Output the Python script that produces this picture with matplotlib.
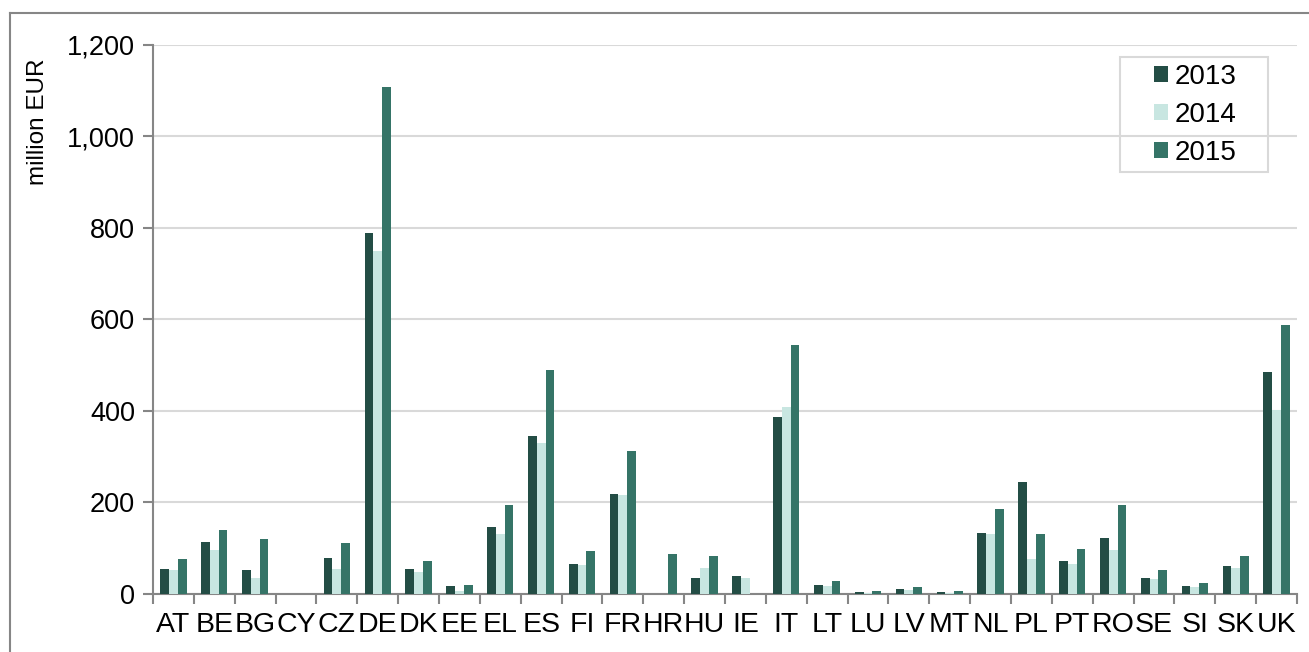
import matplotlib
matplotlib.use('Agg')
from matplotlib import pyplot as plt
from matplotlib.lines import Line2D
from matplotlib.patches import Rectangle
import numpy as np

plt.rcParams['font.family'] = ['Liberation Sans', 'DejaVu Sans']

####################
# data
####################

countries = ['AT', 'BE', 'BG', 'CY', 'CZ', 'DE', 'DK', 'EE', 'EL', 'ES', 'FI', 'FR', 'HR', 'HU',
             'IE', 'IT', 'LT', 'LU', 'LV', 'MT', 'NL', 'PL', 'PT', 'RO', 'SE', 'SI', 'SK', 'UK']

v2013 = [54, 114, 52, 1, 79, 789, 55, 17, 146, 345, 66, 219, 0, 36,
         40, 386, 19, 4, 10, 4, 133, 244, 72, 122, 35, 17, 61, 485]
v2014 = [53, 96, 35, 1, 55, 748, 47, 7, 130, 330, 63, 216, 0, 56,
         35, 408, 17, 3, 9, 2, 130, 77, 66, 96, 33, 15, 57, 401]
v2015 = [77, 140, 120, 1, 111, 1108, 71, 20, 195, 489, 93, 312, 87, 82,
         0, 543, 28, 6, 15, 6, 186, 132, 99, 195, 52, 23, 84, 587]

years = ['2013', '2014', '2015']
colors = ['#234d45', '#c8e6e1', '#357467']

####################
# plot
####################

W, H = 1309, 652
fig = plt.figure(figsize=(W / 100, H / 100), dpi=100)
ax = fig.add_axes([153 / W, 1 - 594 / H, (1297 - 153) / W, (594 - 44.5) / H])

x = np.arange(len(countries))
w = 0.215

for i, (vals, c, yr) in enumerate(zip([v2013, v2014, v2015], colors, years)):
    ax.bar(x + (i - 1) * w, vals, width=w, color=c, label=yr, zorder=3)

ax.set_xlim(-0.5, len(countries) - 0.5)
ax.set_ylim(0, 1200)
ax.set_yticks(np.arange(0, 1201, 200))
ax.set_yticklabels(['{:,}'.format(v) for v in range(0, 1201, 200)], fontsize=19.5)

ax.set_xticks(x)
ax.set_xticklabels(countries, fontsize=20.5)
ax.set_xticks(np.arange(-0.5, len(countries), 1), minor=True)
ax.tick_params(axis='x', which='major', length=0, pad=13)
ax.tick_params(axis='x', which='minor', length=7, width=1.5, color='#868686')
ax.tick_params(axis='y', length=7, width=1.5, color='#868686', pad=6)

ax.grid(axis='y', color='#d9d9d9', linewidth=1.5, zorder=0)

for side in ['top', 'right']:
    ax.spines[side].set_visible(False)
for side in ['left', 'bottom']:
    ax.spines[side].set_color('#868686')
    ax.spines[side].set_linewidth(1.5)

# y label sits near the top, next to the upper ticks
fig.text(38 / W, 1 - 122 / H, 'million EUR', rotation=90, fontsize=17.5,
         ha='center', va='center')

# legend without its own frame, the box is drawn separately (wider than the text)
leg = fig.legend(loc='upper left', bbox_to_anchor=(1154 / W, 1 - 64 / H),
                 fontsize=20, frameon=False, handlelength=0.5, handleheight=0.5,
                 handletextpad=0.25, labelspacing=0.43, borderpad=0, borderaxespad=0)
fig.add_artist(Rectangle((1120 / W, 1 - 172 / H), (1268 - 1120) / W, (172 - 57) / H,
                         transform=fig.transFigure, fill=False, edgecolor='#d9d9d9', lw=1.5))

# outer chart frame
fig.add_artist(Line2D([10 / W, 10 / W], [0, 1 - 13 / H], color='#868686', lw=1.5))
fig.add_artist(Line2D([10 / W, 1], [1 - 13 / H, 1 - 13 / H], color='#868686', lw=1.5))

plt.savefig('out.png', dpi=100)
